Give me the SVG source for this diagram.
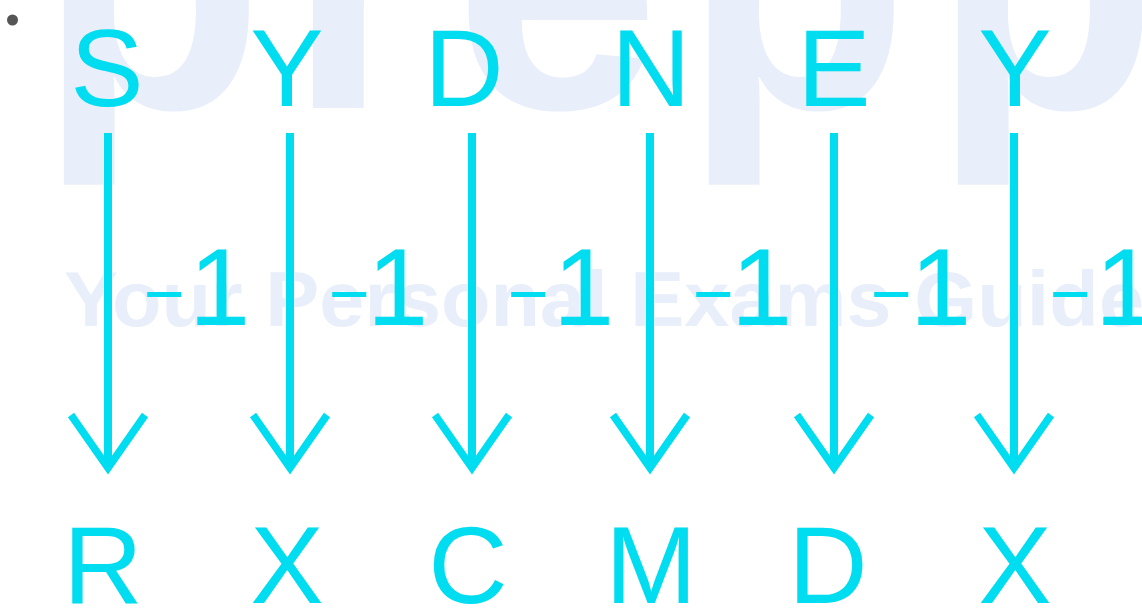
<svg xmlns="http://www.w3.org/2000/svg" width="1142" height="608" viewBox="0 0 1142 608">
  <style>
    .wm { fill: #e8eefa; font-family: "Liberation Sans", Arial, sans-serif; font-weight: bold; }
    .ltr { fill: #00dcf0; font-family: "Liberation Sans", Arial, sans-serif; font-size: 110px; text-anchor: middle; }
    .lbl { fill: #00dcf0; font-family: "Liberation Sans", Arial, sans-serif; font-size: 110px; }
    .lbl .m { font-size: 70px; }
    .shaft { stroke: #00dcf0; stroke-width: 8; fill: none; marker-end: url(#chev); }
  </style>
  <defs>
    <marker id="chev" markerUnits="userSpaceOnUse" viewBox="-62 -44 68 88" refX="0" refY="0" markerWidth="68" markerHeight="88" orient="auto" overflow="visible">
      <path d="M-53,-37 L0,0 L-53,37" fill="none" stroke="#00dcf0" stroke-width="7.5" stroke-linejoin="miter"/>
    </marker>
  </defs>
  <rect width="1142" height="608" fill="#ffffff"/>
  <g id="watermark">
    <text class="wm" x="38" y="108" font-size="370" textLength="1120" lengthAdjust="spacing">prepp</text>
    <text class="wm" x="64" y="326" font-size="78" textLength="1080" lengthAdjust="spacingAndGlyphs">Your Personal Exams Guide</text>
  </g>
  <circle id="bullet" cx="12.5" cy="20" r="5.5" fill="#555555"/>
  <g id="connectors">
    <line class="shaft" x1="108" y1="133" x2="108" y2="468"/>
    <line class="shaft" x1="290" y1="133" x2="290" y2="468"/>
    <line class="shaft" x1="472" y1="133" x2="472" y2="468"/>
    <line class="shaft" x1="650" y1="133" x2="650" y2="468"/>
    <line class="shaft" x1="834" y1="133" x2="834" y2="468"/>
    <line class="shaft" x1="1014" y1="133" x2="1014" y2="468"/>
  </g>
  <g id="labels">
    <text class="lbl"><tspan class="m" x="144" y="318">−</tspan><tspan x="189" y="325">1</tspan></text>
    <text class="lbl"><tspan class="m" x="329" y="318">−</tspan><tspan x="367" y="325">1</tspan></text>
    <text class="lbl"><tspan class="m" x="508" y="318">−</tspan><tspan x="553" y="325">1</tspan></text>
    <text class="lbl"><tspan class="m" x="693" y="318">−</tspan><tspan x="731" y="325">1</tspan></text>
    <text class="lbl"><tspan class="m" x="871" y="318">−</tspan><tspan x="910" y="325">1</tspan></text>
    <text class="lbl"><tspan class="m" x="1050" y="318">−</tspan><tspan x="1095" y="325">1</tspan></text>
  </g>
  <g id="top-S"><text class="ltr" x="107" y="106">S</text></g>
  <g id="top-Y1"><text class="ltr" x="287" y="106">Y</text></g>
  <g id="top-D"><text class="ltr" x="464" y="106">D</text></g>
  <g id="top-N"><text class="ltr" x="651" y="106">N</text></g>
  <g id="top-E"><text class="ltr" x="834" y="106">E</text></g>
  <g id="top-Y2"><text class="ltr" x="1015" y="106">Y</text></g>
  <g id="bot-R"><text class="ltr" x="103" y="603">R</text></g>
  <g id="bot-X1"><text class="ltr" x="287" y="603">X</text></g>
  <g id="bot-C"><text class="ltr" x="468" y="603">C</text></g>
  <g id="bot-M"><text class="ltr" x="651" y="603">M</text></g>
  <g id="bot-D"><text class="ltr" x="828" y="603">D</text></g>
  <g id="bot-X2"><text class="ltr" x="1015" y="603">X</text></g>
</svg>
